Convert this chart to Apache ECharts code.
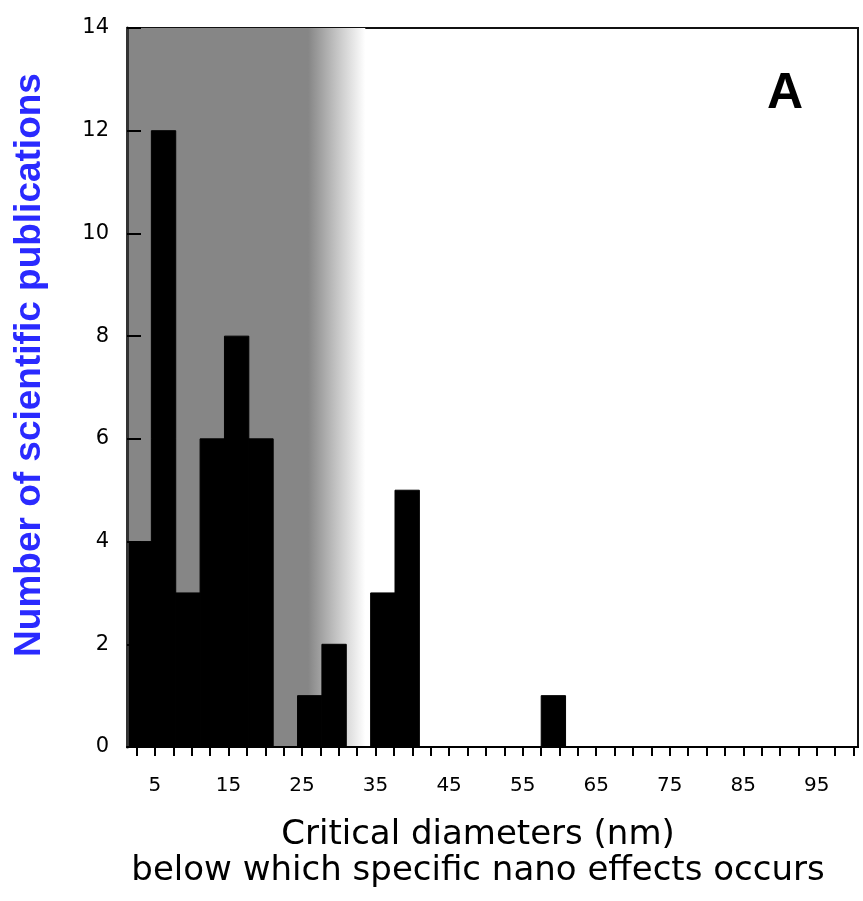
<!DOCTYPE html>
<html>
<head>
<meta charset="utf-8">
<script src="https://cdn.jsdelivr.net/npm/echarts@6/dist/echarts.min.js"></script>
<style>
  html, body { margin: 0; padding: 0; background: #fff; }
  #chart { width: 863px; height: 901px; }
</style>
</head>
<body>
<div id="chart"></div>
<script>
// histogram counts, one per bin (30 bins across the axis)
const counts = [4, 12, 3, 6, 8, 6, 0, 1, 2, 0, 3, 5, 0, 0, 0, 0, 0, 1, 0, 0, 0, 0, 0, 0, 0, 0, 0, 0, 0, 0]
const binStart = 1.2
const binWidth = 3.313
const xMin = 1.2
const xMax = 100.6
// axis ticks / labels
const xTickValues = [2.5, 5, 7.5, 10, 12.5, 15, 17.5, 20, 22.5, 25, 27.5, 30, 32.5, 35, 37.5, 40, 42.5, 45, 47.5, 50,
    52.5, 55, 57.5, 60, 62.5, 65, 67.5, 70, 72.5, 75, 77.5, 80, 82.5, 85, 87.5, 90, 92.5, 95, 97.5, 100]
const xLabelValues = [5, 15, 25, 35, 45, 55, 65, 75, 85, 95]
const yMax = 14
// shaded region (nano range), fades out on the right
const shadeFrom = 1.2
const shadeTo = 33.6

const chart = echarts.init(document.getElementById('chart'))

// 组装直方图数据
const histData = counts.map((c, i) => [binStart + i * binWidth, binStart + (i + 1) * binWidth, c])

const option = {
    animation: false,
    backgroundColor: '#fff',
    grid: {
        left: 127,
        right: 5,
        top: 28,
        bottom: 154,
        show: true,
        borderColor: '#111',
        borderWidth: 2,
        backgroundColor: '#fff'
    },
    xAxis: {
        type: 'value',
        min: xMin,
        max: xMax,
        z: 5,
        splitLine: { show: false },
        axisLine: { show: true, lineStyle: { color: '#000', width: 2 } },
        axisTick: {
            show: true,
            customValues: xTickValues,
            length: 9,
            lineStyle: { color: '#000', width: 2 }
        },
        axisLabel: {
            customValues: xLabelValues,
            margin: 29,
            fontSize: 20,
            color: '#000',
            fontFamily: 'DejaVu Sans'
        }
    },
    yAxis: {
        type: 'value',
        min: 0,
        max: yMax,
        interval: 2,
        z: 5,
        splitLine: { show: false },
        axisLine: { show: true, lineStyle: { color: '#333', width: 3 } },
        axisTick: {
            show: true,
            inside: true,
            length: 14,
            lineStyle: { color: '#000', width: 2 }
        },
        axisLabel: {
            margin: 18,
            fontSize: 21,
            color: '#000',
            fontFamily: 'DejaVu Sans'
        }
    },
    series: [
        {
            // 背景阴影区
            type: 'line',
            data: [],
            z: 1,
            silent: true,
            markArea: {
                silent: true,
                itemStyle: {
                    color: new echarts.graphic.LinearGradient(0, 0, 1, 0, [
                        { offset: 0, color: '#868686' },
                        { offset: 0.76, color: '#868686' },
                        { offset: 0.88, color: '#c4c4c4' },
                        { offset: 1, color: '#ffffff' }
                    ])
                },
                data: [[{ xAxis: shadeFrom, yAxis: 0 }, { xAxis: shadeTo, yAxis: yMax }]]
            }
        },
        {
            type: 'custom',
            z: 3,
            data: histData,
            encode: { x: [0, 1], y: 2 },
            renderItem(params, api) {
                const v = api.value(2)
                if (!v) return null
                const p0 = api.coord([api.value(0), v])
                const p1 = api.coord([api.value(1), 0])
                return {
                    type: 'rect',
                    shape: { x: p0[0], y: p0[1], width: p1[0] - p0[0], height: p1[1] - p0[1] },
                    style: { fill: '#000', stroke: '#000', lineWidth: 1 }
                }
            }
        }
    ],
    graphic: [
        {
            type: 'text',
            x: 30,
            y: 365,
            rotation: Math.PI / 2,
            style: {
                text: 'Number of scientific publications',
                fill: '#2a2aff',
                font: 'bold 37px "Liberation Sans", Arial, sans-serif',
                align: 'center',
                verticalAlign: 'middle'
            }
        },
        {
            type: 'text',
            x: 785,
            y: 94,
            style: {
                text: 'A',
                fill: '#000',
                font: 'bold 50px "Liberation Sans", Arial, sans-serif',
                align: 'center',
                verticalAlign: 'middle'
            }
        },
        {
            type: 'text',
            x: 478,
            y: 853,
            style: {
                text: 'Critical diameters (nm)\nbelow which specific nano effects occurs',
                fill: '#000',
                font: '34px "DejaVu Sans", sans-serif',
                lineHeight: 36,
                align: 'center',
                verticalAlign: 'middle'
            }
        }
    ]
}

chart.setOption(option)
</script>
</body>
</html>
